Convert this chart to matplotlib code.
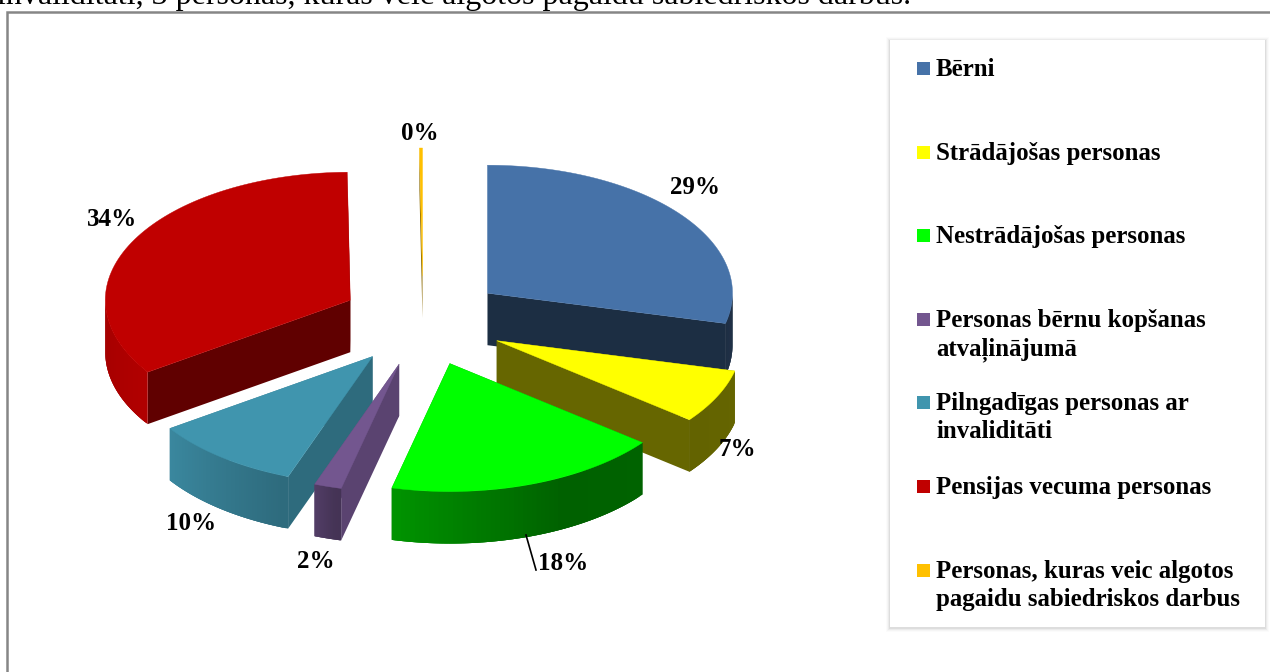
import numpy as np
import matplotlib
matplotlib.use("Agg")
import matplotlib.pyplot as plt
from matplotlib.collections import PolyCollection
from matplotlib.colors import to_rgb
from matplotlib.patches import Polygon, Rectangle

# Data
names = ["Bērni", "Strādājošas personas", "Nestrādājošas personas",
         "Personas bērnu kopšanas\natvaļinājumā",
         "Pilngadīgas personas ar\ninvaliditāti",
         "Pensijas vecuma personas",
         "Personas, kuras veic algotos\npagaidu sabiedriskos darbus"]
values = [28.8, 6.8, 18.2, 1.8, 9.9, 34.3, 0.2]
colors = ["#4672a8", "#ffff00", "#00ff00", "#73568f", "#4095ae", "#c00000", "#ffc000"]
legend_y = [69, 153, 236, 320, 403, 487, 571]
label_pos = [(695, 188), (737, 449), (563, 564), (316, 562), (191, 523), (112, 219), (420, 133)]
cut_shade = [0.4, 0.4, 0.4, 0.72, 0.72, 0.5, 0.55]
slice_depth = [52, 52, 52, 52, 52, 52, 42]

# Pie geometry, in pixels
cx, cy = 423, 321
rx, ry = 245, 128
explode_x, explode_y = 82, 45

plt.rcParams['font.family'] = ['Liberation Serif', 'DejaVu Serif']

fig = plt.figure(figsize=(12.7, 6.72), dpi=100)
ax = fig.add_axes([0, 0, 1, 1])
ax.set_xlim(0, 1270)
ax.set_ylim(672, 0)
ax.axis("off")


def rim(ox, oy, theta):
    t = np.radians(theta)
    return ox + rx * np.sin(t), oy - ry * np.cos(t)


def wall_shade(theta):
    return np.interp(theta, [90, 150, 195, 200, 236, 270], [0.4, 0.38, 0.6, 0.72, 0.92, 0.85])


def shaded(color, k):
    return tuple(c * k for c in to_rgb(color))


def draw_slice(i, start, end):
    color = colors[i]
    depth = slice_depth[i]
    mid = np.radians((start + end) / 2)
    ox = cx + explode_x * np.sin(mid)
    oy = cy - explode_y * np.cos(mid)
    z = 30 - np.cos(mid) * 10

    # radial cut faces, the far one first
    faces = []
    for theta in (start, end):
        px, py = rim(ox, oy, theta)
        faces.append([(ox, oy), (px, py), (px, py + depth), (ox, oy + depth)])
    faces.sort(key=lambda f: f[1][1])
    for f in faces:
        k = cut_shade[i]
        if i == 3 and f[1][0] > 270:
            k = 0.78
        ax.add_patch(Polygon(f, closed=True, fc=shaded(color, k), ec="none", zorder=z))

    # outer wall, only the part that faces the viewer
    lo, hi = max(start, 90), min(end, 270)
    if hi > lo:
        # each quad runs over the next one so no seams show
        steps = np.linspace(lo, hi, 60)
        quads = []
        quad_colors = []
        for j in range(len(steps) - 1):
            a, b = steps[j], steps[min(j + 3, len(steps) - 1)]
            arc = np.linspace(a, b, 6)
            xs, ys = rim(ox, oy, arc)
            quads.append(list(zip(xs, ys)) + list(zip(xs[::-1], ys[::-1] + depth)))
            quad_colors.append(shaded(color, wall_shade(steps[j])))
        ax.add_collection(PolyCollection(quads[::-1], facecolors=quad_colors[::-1], edgecolors="none",
                                         zorder=z + 0.1))

    # top surface
    arc = np.linspace(start, end, 80)
    xs, ys = rim(ox, oy, arc)
    pts = [(ox, oy)] + list(zip(xs, ys))
    ax.add_patch(Polygon(pts, closed=True, fc=color, ec=color, lw=0.3, zorder=z + 0.2))


angles = np.cumsum([0] + values) / sum(values) * 360
for i in range(len(values)):
    draw_slice(i, angles[i], angles[i + 1])

# Slice labels
for v, (x, y) in zip(values, label_pos):
    ax.text(x, y, f"{round(v)}%", fontsize=18, fontweight="bold", color="black",
            ha="center", va="center", zorder=60)
ax.plot([526, 536], [535, 570], color="black", lw=1.2, zorder=59)

# Chart frame and the clipped line of text above it
ax.plot([7, 7, 1270], [672, 12, 12], color="#868686", lw=1.8, solid_joinstyle="miter", zorder=1)
ax.text(-3, 4, "invaliditāti, 3 personas, kuras veic algotos pagaidu sabiedriskos darbus.",
        fontsize=23, color="black", ha="left", va="baseline", zorder=2)

# Legend box with a soft shadow
for grow, alpha in zip([4, 3, 2, 1], [0.015, 0.025, 0.04, 0.06]):
    ax.add_patch(Rectangle((890 - grow, 40 - grow + 1), 375 + 2 * grow, 587 + 2 * grow,
                           fc="black", ec="none", alpha=alpha, zorder=40))
ax.add_patch(Rectangle((890, 40), 375, 587, fc="white", ec="none", zorder=41))
for name, color, y in zip(names, colors, legend_y):
    ax.add_patch(Rectangle((917, y - 7), 12.5, 12.5, fc=color, ec="none", zorder=42))
    ax.text(936, y - 11, name, fontsize=17.9, fontweight="bold", color="black",
            ha="left", va="top", linespacing=1.29, zorder=42)

fig.savefig("out.png", dpi=100)
